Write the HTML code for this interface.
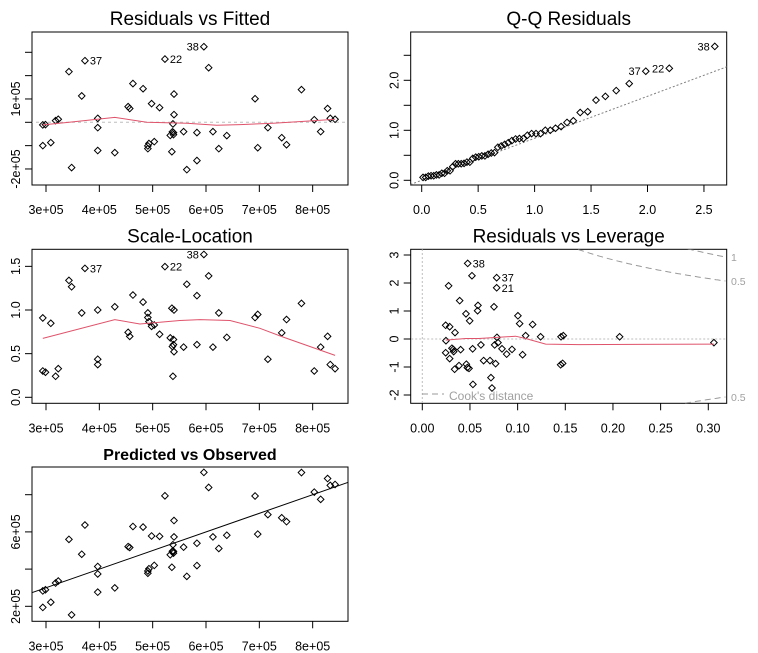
<!DOCTYPE html>
<html><head><meta charset="utf-8"><style>
html,body{margin:0;padding:0;background:#fff;}
svg{display:block;font-family:"Liberation Sans",Arial,sans-serif;}
</style></head><body>
<svg id="chart" width="758" height="653" viewBox="0 0 758 653" xmlns="http://www.w3.org/2000/svg">
<rect width="758" height="653" fill="#fff"/>
</svg>
<script>
// ---- Data (values in units of 1e5 for fitted/residuals) ----
const fitted = [2.94,2.94,2.99,3.09,3.18,3.23,3.43,3.48,3.67,3.73,3.97,3.97,3.97,4.29,4.54,4.57,4.63,4.82,4.91,4.91,4.93,4.98,5.03,5.13,5.23,5.33,5.36,5.37,5.38,5.39,5.40,5.40,5.39,5.58,5.64,5.83,5.83,5.96,6.05,6.13,6.24,6.39,6.92,6.97,7.16,7.42,7.51,7.79,8.03,8.15,8.28,8.33,8.42];
const resid = [-1.00,-0.11,-0.10,-0.87,0.07,0.13,2.17,-1.94,1.13,2.64,0.17,-0.23,-1.21,-1.30,0.67,0.59,1.66,1.44,-1.13,-1.01,-0.91,0.80,-0.83,0.63,2.71,-0.56,-1.26,-0.41,-0.07,-0.53,1.21,0.33,-0.44,-0.40,-2.03,-1.64,-0.44,3.24,2.34,-0.40,-1.13,-0.57,1.01,-1.09,-0.23,-0.66,-0.96,1.40,0.11,-0.40,0.59,0.17,0.13];
const pointIds = [1,2,3,4,5,6,7,8,9,37,11,12,13,14,15,16,17,18,19,20,21,23,24,25,22,26,27,28,29,30,31,32,33,34,35,36,39,38,40,41,42,43,44,45,46,47,48,49,50,51,52,53,54];
const labelled = [37,22,38];
const sigma = 1.21;
const smoothRF_x = [2.94,3.39,4.29,4.89,5.64,6.20,6.64,7.26,8.01,8.42];
const smoothRF_y = [-0.11,-0.01,0.21,0.0,-0.04,-0.13,-0.10,-0.04,0.07,0.13];
const smoothSL_x = [2.94,4.29,4.76,5.51,5.89,6.45,7.01,7.45,8.42];
const smoothSL_y = [0.675,0.89,0.84,0.88,0.89,0.88,0.79,0.69,0.48];
const leverage = [0.0476,0.0521,0.078,0.078,0.0276,0.0392,0.0584,0.0580,0.0752,0.0458,0.0497,0.0245,0.0287,0.0343,0.1003,0.1021,0.1157,0.1084,0.1241,0.1455,0.1479,0.2070,0.0248,0.0783,0.0245,0.0287,0.0311,0.0325,0.0329,0.0402,0.0528,0.0615,0.0759,0.0794,0.0836,0.0885,0.0941,0.1052,0.0339,0.0385,0.0462,0.0472,0.0490,0.0643,0.0710,0.0769,0.0720,0.0531,0.0731,0.1451,0.1472,0.3059];
const stdResid = [2.70,2.26,2.19,1.83,1.90,1.37,1.20,1.01,1.15,0.90,0.65,0.49,0.44,0.23,0.83,0.55,0.52,0.12,0.08,0.08,0.12,0.08,-0.06,0.06,-0.49,-0.70,-0.33,-0.37,-0.45,-0.38,-0.35,-0.21,-0.21,-0.13,-0.35,-0.54,-0.37,-0.56,-1.08,-0.95,-0.90,-1.02,-1.05,-0.77,-0.77,-0.88,-1.38,-1.62,-1.75,-0.92,-0.87,-0.13];
const levLabels = ["38","","37","21"];
const smoothLV_x = [0.0245,0.0455,0.0594,0.0804,0.0979,0.1084,0.1294,0.1643,0.3059];
const smoothLV_y = [-0.04,0.02,0.02,0.06,0.10,0.02,-0.18,-0.20,-0.18];
const cookLevels = [0.5,1];
const nParams = 4;
const qqSlope = 0.84;

const NS = "http://www.w3.org/2000/svg";
const svg = document.getElementById('chart');
const RED = "#DF536B";
function mk(tag, attrs, parent){ const e=document.createElementNS(NS,tag); for(const k in attrs) e.setAttribute(k,attrs[k]); (parent||svg).appendChild(e); return e; }
function txt(s, attrs, parent){ const e=mk('text',attrs,parent); e.textContent=s; return e; }

function qnorm(p){
  const a=[-39.69683028665376,220.9460984245205,-275.9285104469687,138.3577518672690,-30.66479806614716,2.506628277459239];
  const b=[-54.47609879822406,161.5858368580409,-155.6989798598866,66.80131188771972,-13.28068155288572];
  const c=[-0.007784894002430293,-0.3223964580411365,-2.400758277161838,-2.549732539343734,4.374664141464968,2.938163982698783];
  const d=[0.007784695709041462,0.3224671290700398,2.445134137142996,3.754408661907416];
  const pl=0.02425; let q,r;
  if(p<pl){q=Math.sqrt(-2*Math.log(p));return (((((c[0]*q+c[1])*q+c[2])*q+c[3])*q+c[4])*q+c[5])/((((d[0]*q+d[1])*q+d[2])*q+d[3])*q+1);}
  if(p>1-pl){q=Math.sqrt(-2*Math.log(1-p));return -(((((c[0]*q+c[1])*q+c[2])*q+c[3])*q+c[4])*q+c[5])/((((d[0]*q+d[1])*q+d[2])*q+d[3])*q+1);}
  q=p-0.5;r=q*q;return (((((a[0]*r+a[1])*r+a[2])*r+a[3])*r+a[4])*r+a[5])*q/(((((b[0]*r+b[1])*r+b[2])*r+b[3])*r+b[4])*r+1);
}

function panel(name, box, xlim, ylim, xt, xl, yt, yl, title, bold){
  const g = mk('g',{});
  
  
  const sx = v => box.x0 + (v-xlim[0])/(xlim[1]-xlim[0])*(box.x1-box.x0);
  const sy = v => box.y1 - (v-ylim[0])/(ylim[1]-ylim[0])*(box.y1-box.y0);
  const cid = 'clip-'+name;
  const cp = mk('clipPath',{id:cid},g); mk('rect',{x:box.x0,y:box.y0,width:box.x1-box.x0,height:box.y1-box.y0},cp);
  const t = txt(title,{x:(box.x0+box.x1)/2,y:box.y0-7,'text-anchor':'middle','font-size':bold?16:19,'font-weight':bold?'bold':'normal',fill:'#000'},g);
  
  
  const xa = mk('g',{},g);
  
  
  xt.forEach((v,i)=>{ const X=sx(v); mk('line',{x1:X,x2:X,y1:box.y1,y2:box.y1+7,stroke:'#000','stroke-width':1},xa);
    if(xl[i]) txt(xl[i],{x:X,y:box.y1+29,'text-anchor':'middle','font-size':12.5},xa); });
  const ya = mk('g',{},g);
  
  
  yt.forEach((v,i)=>{ const Y=sy(v); mk('line',{x1:box.x0-7,x2:box.x0,y1:Y,y2:Y,stroke:'#000','stroke-width':1},ya);
    if(yl[i]) txt(yl[i],{x:0,y:0,'text-anchor':'middle','font-size':12.5,transform:`translate(${box.x0-12},${Y}) rotate(-90)`},ya); });
  mk('rect',{x:box.x0,y:box.y0,width:box.x1-box.x0,height:box.y1-box.y0,fill:'none',stroke:'#000','stroke-width':1},g);
  const inner = mk('g',{'clip-path':`url(#${cid})`},g);
  return {g, inner, sx, sy, box};
}
function pt(p, x, y, name){
  const X=p.sx(x), Y=p.sy(y), r=3.3;
  const e = mk('path',{d:`M${X} ${Y-r}L${X+r} ${Y}L${X} ${Y+r}L${X-r} ${Y}Z`,fill:'none',stroke:'#000','stroke-width':1},p.inner);
  
  
}
function line(p, xs, ys, attrs, name){
  const d = xs.map((x,i)=>(i?'L':'M')+p.sx(x).toFixed(1)+' '+p.sy(ys[i]).toFixed(1)).join('');
  const e = mk('path',Object.assign({d, fill:'none'},attrs),p.inner);
  
  
}
function lab(p, s, x, y, side){
  const e = txt(s,{x:p.sx(x)+(side>0?5:-5),y:p.sy(y)+4,'text-anchor':side>0?'start':'end','font-size':11},p.g);
  
  
}
const xT=[3,4,5,6,7,8], xL=["3e+05","4e+05","5e+05","6e+05","7e+05","8e+05"];

// Panel 1: Residuals vs Fitted
const p1 = panel('residuals-vs-fitted',{x0:32,x1:348,y0:32,y1:185},[2.7375,8.6625],[-2.687,3.870],xT,xL,[-2,-1,0,1,2,3],["-2e+05","","","1e+05","",""],"Residuals vs Fitted");
line(p1,[2.7,8.7],[0,0],{stroke:'#BEBEBE','stroke-dasharray':'3,3'},'zero-line');
fitted.forEach((f,i)=>pt(p1,f,resid[i],'point'));
line(p1,smoothRF_x,smoothRF_y,{stroke:RED,'stroke-width':1},'smooth-line');
fitted.forEach((f,i)=>{ if(labelled.includes(pointIds[i])) lab(p1,String(pointIds[i]),f,resid[i],pointIds[i]===38?-1:1); });

// Panel 2: Q-Q Residuals (half-normal)
const p2 = panel('qq-residuals',{x0:410.7,x1:726.7,y0:32,y1:185},[-0.0974,2.7015],[-0.094,2.966],[0,0.5,1,1.5,2,2.5],["0.0","0.5","1.0","1.5","2.0","2.5"],[0,0.5,1,1.5,2,2.5],["0.0","","1.0","","2.0",""],"Q-Q Residuals");
line(p2,[-0.1,2.8],[-0.1*qqSlope,2.8*qqSlope],{stroke:'#808080','stroke-dasharray':'2,2'},'qq-line');
const n=resid.length;
const ord = resid.map((r,i)=>i).sort((a,b)=>Math.abs(resid[a])-Math.abs(resid[b]));
ord.forEach((idx,k)=>{ const q=qnorm(0.5+0.5*(k+1-0.5)/n); const y=Math.abs(resid[idx])/sigma; pt(p2,q,y,'qq-point');
  if(labelled.includes(pointIds[idx])) lab(p2,String(pointIds[idx]),q,y,-1); });

// Panel 3: Scale-Location
const p3 = panel('scale-location',{x0:32,x1:348,y0:249.3,y1:403.3},[2.7375,8.6625],[-0.0687,1.6953],xT,xL,[0,0.5,1,1.5],["0.0","0.5","1.0","1.5"],"Scale-Location");
fitted.forEach((f,i)=>pt(p3,f,Math.sqrt(Math.abs(resid[i])/sigma),'point'));
line(p3,smoothSL_x,smoothSL_y,{stroke:RED,'stroke-width':1},'smooth-line');
fitted.forEach((f,i)=>{ if(labelled.includes(pointIds[i])) lab(p3,String(pointIds[i]),f,Math.sqrt(Math.abs(resid[i])/sigma),pointIds[i]===38?-1:1); });

// Panel 4: Residuals vs Leverage
const p4 = panel('residuals-vs-leverage',{x0:410.7,x1:726.7,y0:249.3,y1:403.3},[-0.01217,0.31931],[-2.296,3.204],[0,0.05,0.1,0.15,0.2,0.25,0.3],["0.00","0.05","0.10","0.15","0.20","0.25","0.30"],[-2,-1,0,1,2,3],["-2","-1","0","1","2","3"],"Residuals vs Leverage");
line(p4,[0,0],[-3,4],{stroke:'#BEBEBE','stroke-dasharray':'2,2'},'zero-leverage-line');
line(p4,[-0.02,0.33],[0,0],{stroke:'#BEBEBE','stroke-dasharray':'2,2'},'zero-residual-line');
cookLevels.forEach(D=>{ const hs=[],up=[],dn=[]; for(let h=0.05;h<=0.3195;h+=0.002){hs.push(h);const v=Math.sqrt(D*nParams*(1-h)/h);up.push(v);dn.push(-v);}
  line(p4,hs,up,{stroke:'#999','stroke-dasharray':'6,4'},'cooks-curve-'+D);
  line(p4,hs,dn,{stroke:'#999','stroke-dasharray':'6,4'},'cooks-curve-neg-'+D);
  const hE=0.3193, v=Math.sqrt(D*nParams*(1-hE)/hE);
  [v,-v].forEach(y=>{ if(y<3.204&&y>-2.296){ const e=txt(String(D),{x:731,y:p4.sy(y)+4,'font-size':10.5,fill:'#A0A0A0'},p4.g);
      } });
});
leverage.forEach((h,i)=>pt(p4,h,stdResid[i],'point'));
line(p4,smoothLV_x,smoothLV_y,{stroke:RED,'stroke-width':1},'smooth-line');
levLabels.forEach((s,i)=>{ if(s) lab(p4,s,leverage[i],stdResid[i],1); });
const lg = mk('g',{});


mk('line',{x1:422,x2:444,y1:394,y2:394,stroke:'#999','stroke-dasharray':'6,4'},lg);
txt("Cook's distance",{x:449,y:400,'font-size':12,fill:'#A0A0A0'},lg);

// Panel 5: Predicted vs Observed
const p5 = panel('predicted-vs-observed',{x0:32,x1:348,y0:467,y1:621.3},[2.7375,8.6625],[1.194,9.489],xT,xL,[2,4,6,8],["2e+05","","6e+05",""],"Predicted vs Observed",true);
line(p5,[2.7,8.7],[2.7,8.7],{stroke:'#000','stroke-width':1},'identity-line');
fitted.forEach((f,i)=>pt(p5,f,f+resid[i],'point'));
</script>
</body></html>
